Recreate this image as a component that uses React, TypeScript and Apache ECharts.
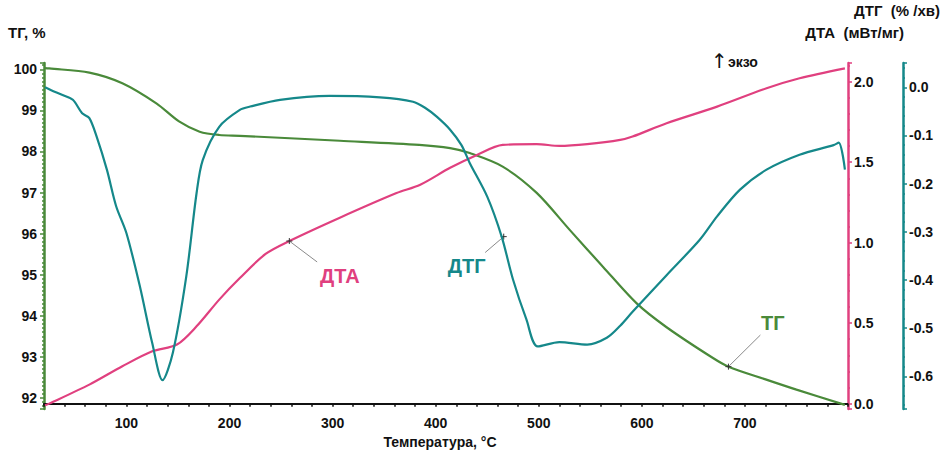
import React, { useEffect, useRef } from "react";
import * as echarts from "echarts";

// ТГ (%)
const tgT = [21, 25, 64, 96, 129, 151, 171, 190, 210, 307, 384, 414, 433, 465, 498, 530, 562, 595, 624, 669, 684, 720, 750, 797];
const tgV = [100.03, 100.02, 99.92, 99.66, 99.17, 98.73, 98.48, 98.4, 98.38, 98.26, 98.16, 98.08, 97.96, 97.63, 96.99, 96.09, 95.2, 94.3, 93.72, 92.97, 92.76, 92.45, 92.2, 91.83];

// ДТА (мВт/мг)
const dtaT = [21, 25, 64, 96, 125, 149, 168, 190, 210, 235, 258, 307, 362, 385, 414, 440, 465, 498, 520, 547, 579, 591, 624, 673, 721, 753, 797];
const dtaV = [-0.01, 0.0, 0.118, 0.232, 0.325, 0.367, 0.48, 0.646, 0.78, 0.93, 1.01, 1.155, 1.308, 1.36, 1.465, 1.545, 1.607, 1.612, 1.601, 1.612, 1.638, 1.659, 1.742, 1.845, 1.959, 2.021, 2.083];

// ДТГ (%/хв)
const dtgT = [21, 27, 38, 48, 57, 64, 71, 81, 90, 100, 113, 125, 135, 145, 158, 168, 174, 190, 210, 220, 249, 297, 346, 378, 390, 401, 414, 425, 433, 450, 464, 475, 488, 499, 520, 547, 566, 579, 591, 624, 656, 673, 695, 721, 753, 786, 791, 797];
const dtgV = [0.0, -0.006, -0.016, -0.026, -0.054, -0.064, -0.102, -0.171, -0.247, -0.303, -0.413, -0.531, -0.608, -0.551, -0.393, -0.22, -0.151, -0.082, -0.047, -0.04, -0.026, -0.018, -0.021, -0.03, -0.043, -0.061, -0.088, -0.12, -0.157, -0.227, -0.31, -0.399, -0.482, -0.538, -0.529, -0.534, -0.52, -0.495, -0.466, -0.39, -0.317, -0.268, -0.213, -0.171, -0.14, -0.12, -0.115, -0.171];

// annotation anchors: [curve point, leader end, label position]
const tgNote = [[684, 92.76], [715, 93.53], [727, 93.83]];
const dtaNote = [[258, 1.01], [285, 0.88], [307, 0.795]];
const dtgNote = [[466, -0.31], [448, -0.343], [430, -0.37]];

const GREEN = "#4a8a3a";
const PINK = "#e0407f";
const TEAL = "#15888a";
const FONT = "'Liberation Sans', Arial, sans-serif";

function pairs(t: number[], v: number[]) {
  return t.map((x, i) => [x, v[i]]);
}

function note(pts: number[][], text: string, color: string) {
  return {
    markLine: {
      silent: true,
      symbol: ["none", "none"],
      label: { show: false },
      lineStyle: { color: "#8a8a8a", width: 1, type: "solid" },
      data: [[{ coord: pts[0] }, { coord: pts[1] }]],
    },
    markPoint: {
      silent: true,
      data: [
        {
          coord: pts[0],
          symbol: "path://M0,5L10,5M5,0L5,10",
          symbolSize: 6,
          itemStyle: { color: "none", borderColor: "#333", borderWidth: 1 },
          label: { show: false },
        },
        {
          coord: pts[2],
          symbol: "circle",
          symbolSize: 0,
          label: {
            show: true,
            position: "inside",
            formatter: text,
            color,
            fontSize: 20,
            fontWeight: "bold",
            fontFamily: FONT,
          },
        },
      ],
    },
  };
}

const labelStyle = { color: "#111", fontSize: 14, fontWeight: "bold", fontFamily: FONT };

export default function App() {
  const ref = useRef<HTMLDivElement>(null);
  useEffect(() => {
    const chart = echarts.init(ref.current!, null, { renderer: "svg" });
    chart.setOption({
      animation: false,
      backgroundColor: "#fff",
      grid: { left: 44, right: 96, top: 63, bottom: 44, containLabel: false },
      xAxis: {
        type: "value",
        min: 20,
        max: 800,
        interval: 20,
        name: "Температура, °C",
        nameLocation: "middle",
        nameGap: 24,
        nameTextStyle: { ...labelStyle, padding: [0, 12, 0, 0] },
        axisLine: { show: true, lineStyle: { color: "#111", width: 2 } },
        axisTick: { show: true, length: 3, lineStyle: { color: "#111", width: 1.5 } },
        splitLine: { show: false },
        axisLabel: {
          ...labelStyle,
          margin: 7,
          formatter: (v: number) => (v % 100 === 0 && v > 20 && v < 800 ? String(v) : ""),
        },
      },
      yAxis: [
        {
          type: "value",
          position: "left",
          min: 91.727,
          max: 100.153,
          splitNumber: 8,
          axisLine: { show: true, lineStyle: { color: GREEN, width: 2.5 } },
          axisTick: { show: true, length: 4, lineStyle: { color: GREEN, width: 1.5 } },
          minorTick: { show: true, splitNumber: 10, length: 2, lineStyle: { color: GREEN, width: 1.5 } },
          splitLine: { show: false },
          axisLabel: { ...labelStyle, margin: 7, showMinLabel: false, showMaxLabel: false, formatter: (v: number) => String(Math.round(v)) },
        },
        {
          type: "value",
          position: "right",
          min: -0.034,
          max: 2.116,
          splitNumber: 4,
          axisLine: { show: true, lineStyle: { color: PINK, width: 2.5 } },
          axisTick: { show: true, length: 4, lineStyle: { color: PINK, width: 1.5 } },
          minorTick: { show: true, splitNumber: 5, length: 2, lineStyle: { color: PINK, width: 1.5 } },
          splitLine: { show: false },
          axisLabel: { ...labelStyle, margin: 6, showMinLabel: false, showMaxLabel: false, formatter: (v: number) => v.toFixed(1) },
        },
        {
          type: "value",
          position: "right",
          offset: 55,
          min: -0.668,
          max: 0.0504,
          splitNumber: 7,
          axisLine: { show: true, lineStyle: { color: TEAL, width: 2.5 } },
          axisTick: { show: true, length: 4, lineStyle: { color: TEAL, width: 1.5 } },
          minorTick: { show: true, splitNumber: 5, length: 2, lineStyle: { color: TEAL, width: 1.5 } },
          splitLine: { show: false },
          axisLabel: { ...labelStyle, margin: 6, showMinLabel: false, showMaxLabel: false, formatter: (v: number) => (Math.abs(v) < 1e-9 ? "0.0" : v.toFixed(1)) },
        },
      ],
      series: [
        {
          type: "line",
          name: "ТГ",
          yAxisIndex: 0,
          data: pairs(tgT, tgV),
          smooth: 0.3,
          showSymbol: false,
          lineStyle: { color: GREEN, width: 2.2 },
          itemStyle: { color: GREEN },
          z: 3,
          ...note(tgNote, "ТГ", GREEN),
        },
        {
          type: "line",
          name: "ДТА",
          yAxisIndex: 1,
          data: pairs(dtaT, dtaV),
          smooth: 0.3,
          showSymbol: false,
          lineStyle: { color: PINK, width: 2.2 },
          itemStyle: { color: PINK },
          z: 4,
          ...note(dtaNote, "ДТА", PINK),
        },
        {
          type: "line",
          name: "ДТГ",
          yAxisIndex: 2,
          data: pairs(dtgT, dtgV),
          smooth: 0.3,
          showSymbol: false,
          lineStyle: { color: TEAL, width: 2.2 },
          itemStyle: { color: TEAL },
          z: 5,
          ...note(dtgNote, "ДТГ", TEAL),
        },
      ],
      graphic: [
        { type: "text", left: 8, top: 25, style: { text: "ТГ, %", fill: "#111", font: `bold 15px ${FONT}` } },
        { type: "text", right: 4, top: 3, style: { text: "ДТГ  (% /хв)", fill: "#111", font: `bold 15px ${FONT}` } },
        { type: "text", right: 40, top: 25, style: { text: "ДТА  (мВт/мг)", fill: "#111", font: `bold 15px ${FONT}` } },
        { type: "text", left: 711, top: 51, style: { text: "↑", fill: "#111", font: `20px 'DejaVu Sans', sans-serif` } },
        { type: "text", left: 728, top: 55, style: { text: "экзо", fill: "#111", font: `bold 14px ${FONT}` } },
      ],
    });
    return () => chart.dispose();
  }, []);
  return <div ref={ref} style={{ width: 944, height: 454, position: "absolute", left: 0, top: 0 }} />;
}
